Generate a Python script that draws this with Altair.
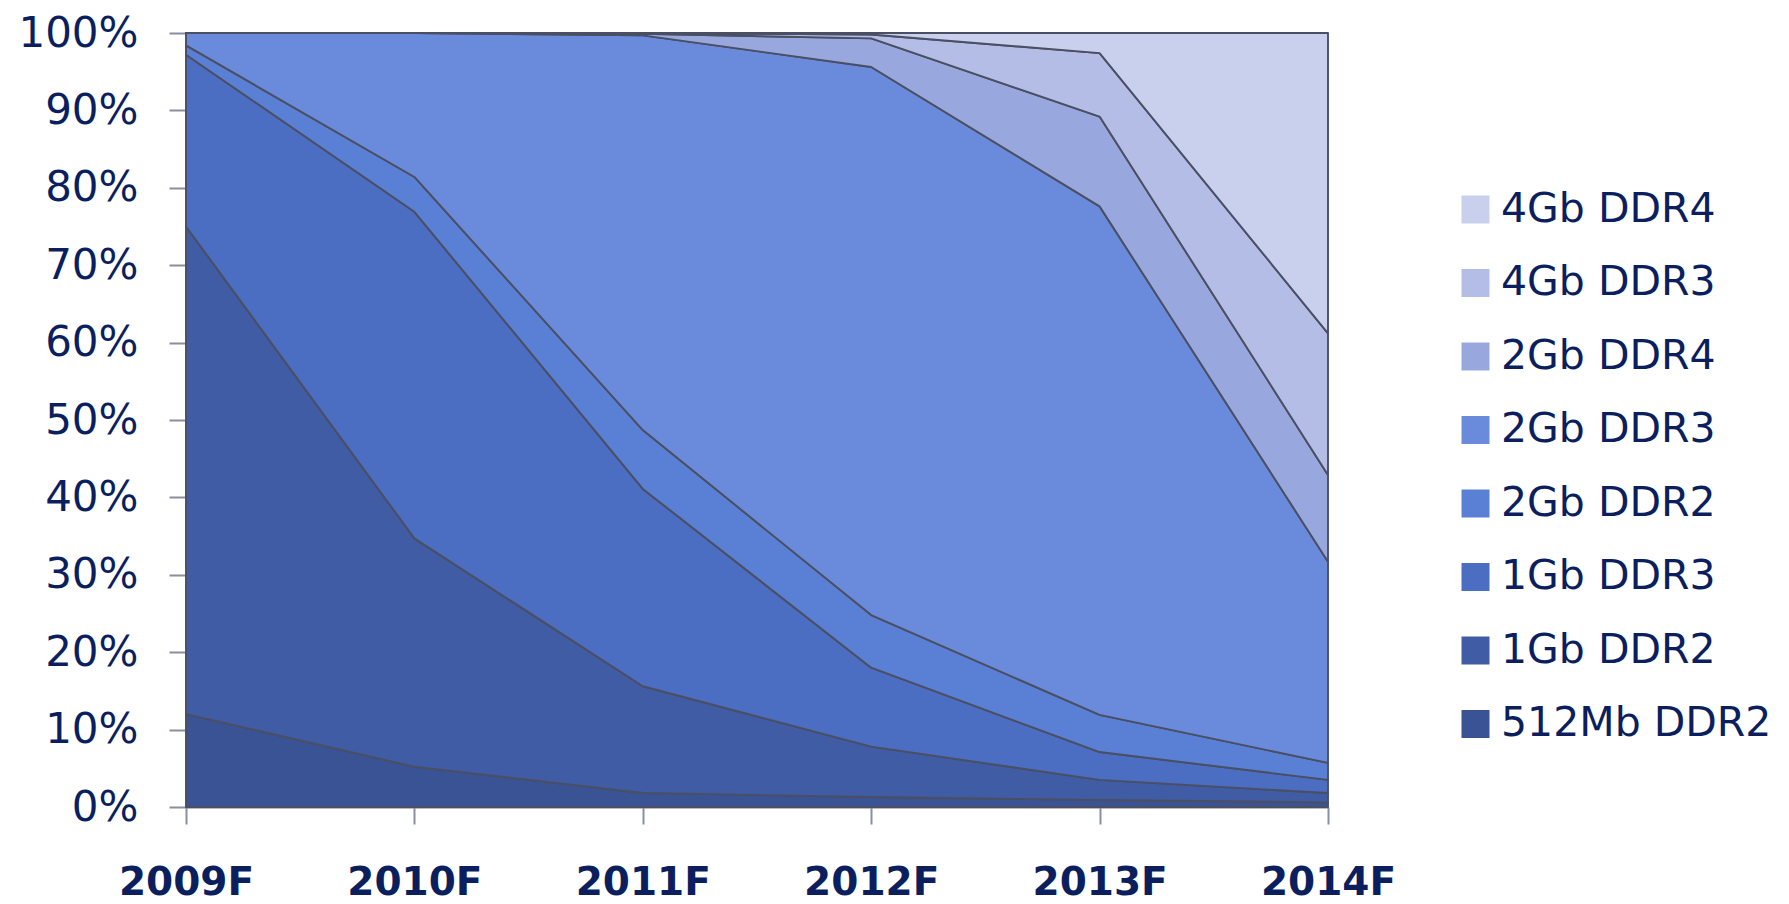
import altair as alt
import pandas as pd

years = ["2009F", "2010F", "2011F", "2012F", "2013F", "2014F"]

# series listed bottom -> top of the stack
series = ["512Mb DDR2", "1Gb DDR2", "1Gb DDR3", "2Gb DDR2",
          "2Gb DDR3", "2Gb DDR4", "4Gb DDR3", "4Gb DDR4"]

s_512mb_ddr2 = [12.0, 5.2, 1.8, 1.3, 0.9, 0.6]
s_1gb_ddr2 = [63.0, 29.5, 13.8, 6.5, 2.6, 1.2]
s_1gb_ddr3 = [22.2, 42.2, 25.5, 10.2, 3.6, 1.7]
s_2gb_ddr2 = [1.2, 4.5, 7.6, 6.8, 4.8, 2.2]
s_2gb_ddr3 = [1.6, 18.6, 51.0, 70.8, 65.7, 26.0]
s_2gb_ddr4 = [0.0, 0.0, 0.2, 3.7, 11.6, 11.2]
s_4gb_ddr3 = [0.0, 0.0, 0.1, 0.5, 8.2, 18.3]
s_4gb_ddr4 = [0.0, 0.0, 0.0, 0.2, 2.6, 38.8]

colors = ["#3a5395", "#3f5ca5", "#4b6dc2", "#5a80d6",
          "#6a8bdc", "#98a8df", "#b3bde6", "#c9d0ee"]

values = [s_512mb_ddr2, s_1gb_ddr2, s_1gb_ddr3, s_2gb_ddr2,
          s_2gb_ddr3, s_2gb_ddr4, s_4gb_ddr3, s_4gb_ddr4]

rows = []
for i, (name, vals) in enumerate(zip(series, values)):
    for y, v in zip(years, vals):
        rows.append({"year": y, "series": name, "value": v, "order": i})
df = pd.DataFrame(rows)

navy = "#0b1f5e"

chart = alt.Chart(df).mark_area(
    stroke="#4a4f63", strokeWidth=1.9, strokeJoin="round"
).encode(
    x=alt.X("year:O", scale=alt.Scale(type="point", padding=0),
            axis=alt.Axis(title=None, labelAngle=0, tickSize=17,
                          labelPadding=39, labelFontSize=39,
                          labelFontWeight="bold", labelFont="DejaVu Sans",
                          labelColor=navy, tickColor="#8a8ea0",
                          domainColor="#8a8ea0", tickWidth=2, domainWidth=2)),
    y=alt.Y("value:Q", stack="zero", scale=alt.Scale(domain=[0, 100], nice=False),
            axis=alt.Axis(title=None, values=list(range(0, 101, 10)),
                          labelExpr="datum.value + '%'", tickSize=17,
                          labelPadding=31, labelFontSize=42,
                          labelFont="DejaVu Sans", labelColor=navy,
                          tickColor="#8a8ea0", domainColor="#8a8ea0",
                          tickWidth=2, domainWidth=2,
                          grid=True, gridColor="#8a8ea0", gridWidth=1.5)),
    color=alt.Color("series:N",
                    scale=alt.Scale(domain=series[::-1], range=colors[::-1]),
                    legend=alt.Legend(title=None, orient="none",
                                      legendX=1269, legendY=156,
                                      symbolType="square", symbolSize=784,
                                      symbolStrokeWidth=0, symbolOpacity=1,
                                      labelFontSize=41, labelFont="DejaVu Sans",
                                      labelColor=navy, labelOffset=5,
                                      rowPadding=31.5, padding=0,
                                      labelLimit=400)),
    order=alt.Order("order:Q", sort="ascending"),
).properties(
    width=1142, height=774,
    autosize=alt.AutoSizeParams(type="none"),
    padding={"left": 186, "top": 33, "right": 461, "bottom": 97},
).configure_view(stroke=None).configure_area(opacity=1)

chart.save("out.html", embed_options={"renderer": "svg", "actions": False})
